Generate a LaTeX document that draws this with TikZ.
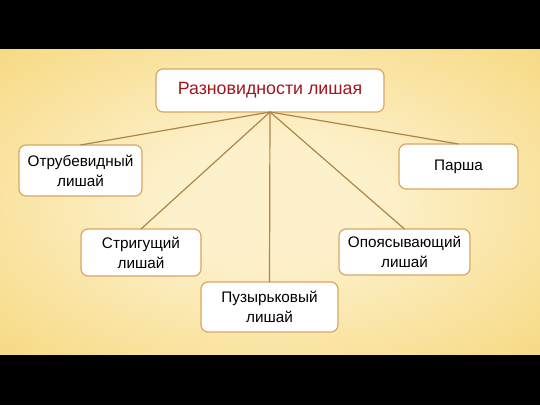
\documentclass[tikz,border=0pt]{standalone}
\usepackage{fontspec}
\setmainfont{Liberation Sans}
\usepackage{tkz-graph}
\definecolor{bgin}{HTML}{FDF1CB}
\definecolor{bgmid}{HTML}{F7DB88}
\definecolor{bgout}{HTML}{EEBA5E}
\definecolor{boxline}{HTML}{D8A762}
\definecolor{linkline}{HTML}{AE8548}
\definecolor{titlered}{HTML}{A3161C}
\pgfdeclareradialshading{glow}{\pgfpoint{0bp}{0bp}}{color(0bp)=(bgin); color(10bp)=(bgin); color(34bp)=(bgmid); color(66bp)=(bgout)}
\tikzset{
  EdgeStyle/.append style = {-, draw = linkline, line width = 1.2pt} }

\begin{document}
\begin{tikzpicture}[x=1pt,y=1pt]
  \useasboundingbox (0,0) rectangle (540,405);
  \fill[black] (0,0) rectangle (540,405);
  \shade[shading=glow] (0,51) rectangle (540,355);
   \tikzstyle{VertexStyle}=[shape = rectangle, rounded corners = 7pt, draw = boxline, line width = 1.2pt, fill = white, align = center, inner sep = 0pt, minimum width = 120pt, minimum height = 47pt, font = \fontsize{15.3}{20}\selectfont]
  \tikzset{
  VertexStyle/.append style = {minimum width = 123pt, minimum height = 51pt} }
  \Vertex[x=80.5,y=234.5,L={Отрубевидный\\лишай}]{otr}
  \tikzset{
  VertexStyle/.append style = {minimum width = 119pt, minimum height = 45pt} }
  \Vertex[x=458.5,y=238.5,L={Парша}]{par}
  \tikzset{
  VertexStyle/.append style = {minimum width = 120pt, minimum height = 47pt} }
  \Vertex[x=141,y=152.5,L={Стригущий\\лишай}]{str}
  \tikzset{
  VertexStyle/.append style = {minimum width = 131pt, minimum height = 46pt} }
  \Vertex[x=404.5,y=153,L={Опоясывающий\\лишай}]{opo}
  \tikzset{
  VertexStyle/.append style = {minimum width = 137pt, minimum height = 50pt} }
  \Vertex[x=269.5,y=98,L={Пузырьковый\\лишай}]{puz}

  \tikzset{
  VertexStyle/.append style = {minimum width = 228pt, minimum height = 43pt, text = titlered, font = \fontsize{17.8}{20}\selectfont} }
  \Vertex[x=270,y=314.5,L={Разновидности лишая}]{top}

  \Edge(top.south)(otr.north)
  \Edge(top.south)(str.north)
  \Edge(top.south)(puz.north)
  \Edge(top.south)(opo.north)
  \Edge(top.south)(par.north)

\end{tikzpicture}
\end{document}
